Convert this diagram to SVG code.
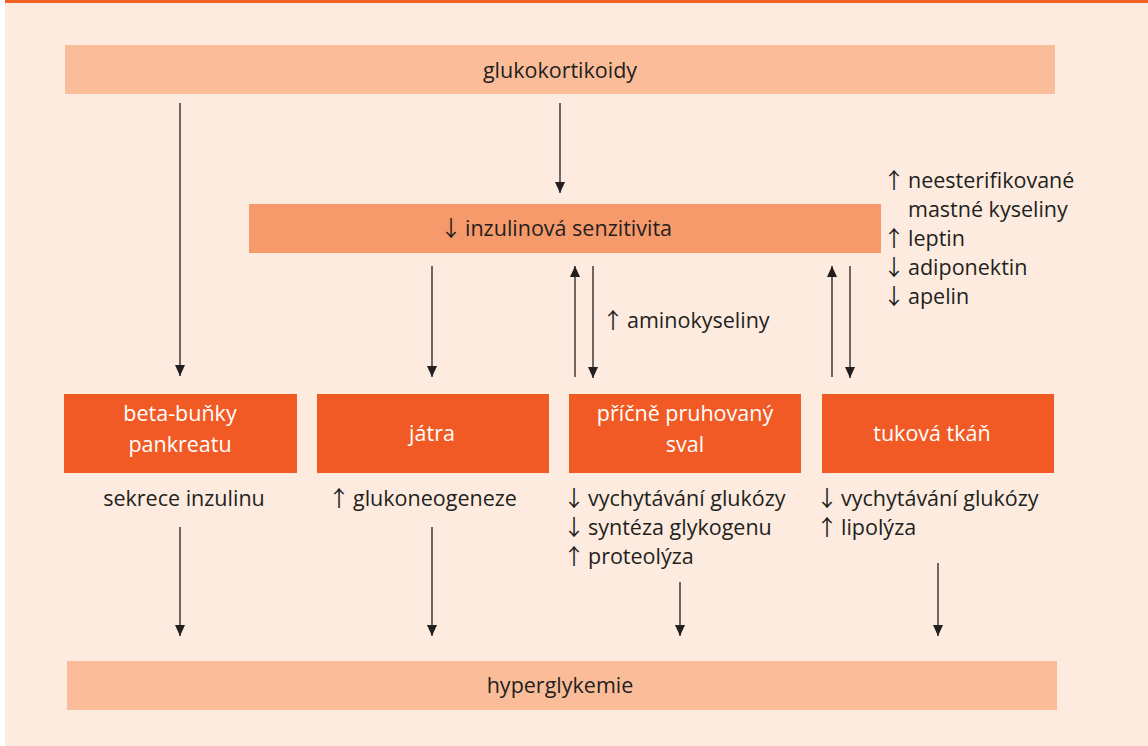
<svg xmlns="http://www.w3.org/2000/svg" width="1148" height="746" viewBox="0 0 1148 746">
<defs>
<style>
.bg{fill:#FDEBDF}
.light{fill:#FBBD99}
.mid{fill:#F79A6B}
.dark{fill:#F15A24}
text{font-family:"Open Sans","Noto Sans","Liberation Sans",sans-serif;font-size:21.5px;fill:#231F20}
.ar{font-family:"Noto Sans CJK JP","Noto Sans CJK SC","DejaVu Sans",sans-serif;font-size:22px}
.w{fill:#FFFFFF}
.c{text-anchor:middle}
.ln{stroke:#231F20;stroke-width:1.3;fill:none;marker-end:url(#ah)}
</style>
<marker id="ah" viewBox="0 0 11 10" refX="11" refY="5" markerWidth="11" markerHeight="10" markerUnits="userSpaceOnUse" orient="auto">
<path d="M0,0 L11,5 L0,10 Z" fill="#231F20"/>
</marker>
</defs>
<rect x="0" y="0" width="1148" height="746" fill="#FFFFFF"/>
<rect class="bg" x="5" y="0" width="1143" height="746"/>
<rect x="5" y="0" width="1143" height="3" fill="#F26122"/>

<g id="glukokortikoidy">
<rect class="light" x="65" y="45" width="990" height="49"/>
<text class="c" x="560" y="78">glukokortikoidy</text>
</g>
<g id="inzulinova-senzitivita">
<rect class="mid" x="249" y="204" width="632" height="49"/>
<text x="440" y="236"><tspan class="ar">↓</tspan><tspan x="465">inzulinová senzitivita</tspan></text>
</g>
<g id="beta-bunky">
<rect class="dark" x="64" y="394" width="233" height="79"/>
<text class="c w" x="180" y="421">beta-buňky</text>
<text class="c w" x="180" y="452">pankreatu</text>
</g>
<g id="jatra">
<rect class="dark" x="317" y="394" width="232" height="79"/>
<text class="c w" x="432" y="441">játra</text>
</g>
<g id="sval">
<rect class="dark" x="569" y="394" width="232" height="79"/>
<text class="c w" x="685" y="421">příčně pruhovaný</text>
<text class="c w" x="685" y="452">sval</text>
</g>
<g id="tukova-tkan">
<rect class="dark" x="822" y="394" width="232" height="79"/>
<text class="c w" x="932" y="441">tuková tkáň</text>
</g>
<g id="hyperglykemie">
<rect class="light" x="67" y="661" width="990" height="49"/>
<text class="c" x="560" y="693">hyperglykemie</text>
</g>

<g id="labels">
<text x="883" y="188"><tspan class="ar">↑</tspan><tspan x="908">neesterifikované</tspan></text>
<text x="908" y="217">mastné kyseliny</text>
<text x="883" y="246"><tspan class="ar">↑</tspan><tspan x="908">leptin</tspan></text>
<text x="883" y="275"><tspan class="ar">↓</tspan><tspan x="908">adiponektin</tspan></text>
<text x="883" y="304"><tspan class="ar">↓</tspan><tspan x="908">apelin</tspan></text>
<text x="602" y="328"><tspan class="ar">↑</tspan><tspan x="627">aminokyseliny</tspan></text>
<text class="c" x="184" y="506">sekrece inzulinu</text>
<text x="328" y="506"><tspan class="ar">↑</tspan><tspan x="353">glukoneogeneze</tspan></text>
<text x="563" y="506"><tspan class="ar">↓</tspan><tspan x="588">vychytávání glukózy</tspan></text>
<text x="563" y="535"><tspan class="ar">↓</tspan><tspan x="588">syntéza glykogenu</tspan></text>
<text x="563" y="564"><tspan class="ar">↑</tspan><tspan x="588">proteolýza</tspan></text>
<text x="816" y="506"><tspan class="ar">↓</tspan><tspan x="841">vychytávání glukózy</tspan></text>
<text x="816" y="535"><tspan class="ar">↑</tspan><tspan x="841">lipolýza</tspan></text>
</g>

<g id="connectors">
<line class="ln" x1="180" y1="103" x2="180" y2="376"/>
<line class="ln" x1="560" y1="103" x2="560" y2="193"/>
<line class="ln" x1="432" y1="266" x2="432" y2="377"/>
<line class="ln" x1="575" y1="377" x2="575" y2="266"/>
<line class="ln" x1="593" y1="266" x2="593" y2="378"/>
<line class="ln" x1="832" y1="377" x2="832" y2="266"/>
<line class="ln" x1="850" y1="266" x2="850" y2="378"/>
<line class="ln" x1="180" y1="527" x2="180" y2="636"/>
<line class="ln" x1="432" y1="527" x2="432" y2="636"/>
<line class="ln" x1="680" y1="582" x2="680" y2="636"/>
<line class="ln" x1="938" y1="563" x2="938" y2="636"/>
</g>
</svg>
